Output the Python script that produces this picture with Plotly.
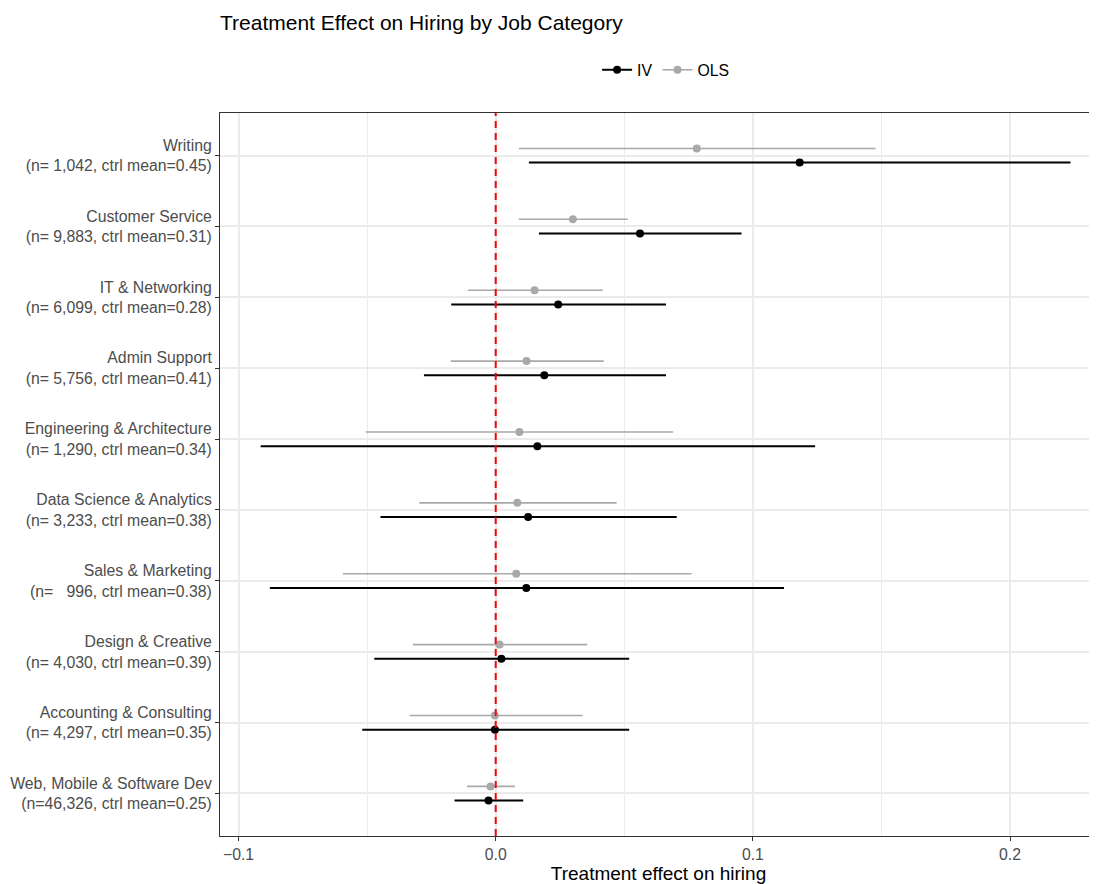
import plotly.graph_objects as go

# ---- data (top to bottom as displayed) ----
categories = [
    "Writing", "Customer Service", "IT & Networking", "Admin Support",
    "Engineering & Architecture", "Data Science & Analytics",
    "Sales & Marketing", "Design & Creative", "Accounting & Consulting",
    "Web, Mobile & Software Dev",
]
n_obs = [1042, 9883, 6099, 5756, 1290, 3233, 996, 4030, 4297, 46326]
ctrl_mean = [0.45, 0.31, 0.28, 0.41, 0.34, 0.38, 0.38, 0.39, 0.35, 0.25]

ols_est = [0.0782, 0.0300, 0.0151, 0.0120, 0.0092, 0.0084, 0.0080, 0.0015, -0.0003, -0.0020]
ols_lo = [0.0090, 0.0090, -0.0108, -0.0175, -0.0505, -0.0297, -0.0594, -0.0322, -0.0335, -0.0111]
ols_hi = [0.1477, 0.0513, 0.0416, 0.0420, 0.0690, 0.0470, 0.0762, 0.0356, 0.0338, 0.0075]

iv_est = [0.1182, 0.0561, 0.0243, 0.0189, 0.0162, 0.0126, 0.0119, 0.0022, -0.0003, -0.0028]
iv_lo = [0.0129, 0.0168, -0.0173, -0.0279, -0.0914, -0.0448, -0.0878, -0.0472, -0.0519, -0.0160]
iv_hi = [0.2235, 0.0956, 0.0662, 0.0662, 0.1242, 0.0704, 0.1121, 0.0519, 0.0519, 0.0107]

x_ticks = [-0.1, 0.0, 0.1, 0.2]

# ---- layout helpers ----
NB = "\u00a0"
pos = list(range(len(categories), 0, -1))
tick_text = [
    f"{c}<br>(n={f'{n:,}'.rjust(6, NB)}, ctrl mean={m:.2f})"
    for c, n, m in zip(categories, n_obs, ctrl_mean)
]
dodge = 0.1
IV_COL = "#000000"
OLS_COL = "#A9A9A9"

# page body has an 8px margin, so the figure is 8px smaller than the window
W, H = 1089, 876
ML, MT, MB = 212, 105, 48
PLOT_H = H - MT - MB

fig = go.Figure()


def add_series(name, est, lo, hi, color, offset, lw):
    ys = [p + offset for p in pos]
    fig.add_trace(go.Scatter(
        x=est, y=ys, mode="markers", name=name, showlegend=False,
        marker=dict(color=color, size=8),
        error_x=dict(type="data", symmetric=False,
                     array=[h - e for h, e in zip(hi, est)],
                     arrayminus=[e - l for e, l in zip(est, lo)],
                     color=color, thickness=lw, width=0),
        hoverinfo="x+y",
    ))
    # legend key (line + point)
    fig.add_trace(go.Scatter(
        x=[None], y=[None], mode="lines+markers", name=name,
        line=dict(color=color, width=lw), marker=dict(color=color, size=8),
    ))


add_series("IV", iv_est, iv_lo, iv_hi, IV_COL, -dodge, 2)
add_series("OLS", ols_est, ols_lo, ols_hi, OLS_COL, dodge, 1.6)

fig.add_shape(type="line", xref="x", yref="paper", x0=0, x1=0, y0=0, y1=1,
              line=dict(color="#FF0000", width=2, dash="7px,5px"), layer="above")

FONT = "Liberation Sans, Arial, sans-serif"

fig.update_layout(
    width=W, height=H,
    margin=dict(l=ML, r=0, t=MT, b=MB, autoexpand=False),
    paper_bgcolor="white", plot_bgcolor="white",
    font=dict(family=FONT, color="#000000"),
    title=dict(text="Treatment Effect on Hiring by Job Category",
               font=dict(size=21, color="#000000", family=FONT),
               xref="paper", x=0, xanchor="left",
               yref="container", y=1 - 15 / H, yanchor="middle"),
    legend=dict(orientation="h", xref="paper", x=0.43, xanchor="left",
                yref="paper", y=1 + (MT - 62) / PLOT_H, yanchor="middle",
                font=dict(size=15.8, color="#000000", family=FONT),
                bgcolor="rgba(0,0,0,0)", itemwidth=30, tracegroupgap=0),
    showlegend=True,
    xaxis=dict(
        range=[-0.1072, 0.2338], tickvals=x_ticks, tickformat=".1f",
        showgrid=True, gridcolor="#EBEBEB", gridwidth=1.6,
        minor=dict(dtick=0.05, tick0=0, showgrid=True, gridcolor="#EBEBEB", gridwidth=0.8),
        zeroline=False, showline=True, linecolor="#333333", linewidth=1, mirror=True,
        ticks="outside", ticklen=4, tickcolor="#333333", tickwidth=1,
        tickfont=dict(size=15.8, color="#4D4D4D", family=FONT),
        title=dict(text="Treatment effect on hiring", standoff=2,
                   font=dict(size=19, color="#000000", family=FONT)),
        automargin=False,
    ),
    yaxis=dict(
        range=[0.4, 10.6], tickvals=pos, ticktext=tick_text,
        showgrid=True, gridcolor="#EBEBEB", gridwidth=1.6,
        zeroline=False, showline=True, linecolor="#333333", linewidth=1, mirror=False,
        ticks="outside", ticklen=4, tickcolor="#333333", tickwidth=1,
        tickfont=dict(size=15.8, color="#4D4D4D", family=FONT),
        automargin=False,
    ),
)

fig.write_html("out.html")
